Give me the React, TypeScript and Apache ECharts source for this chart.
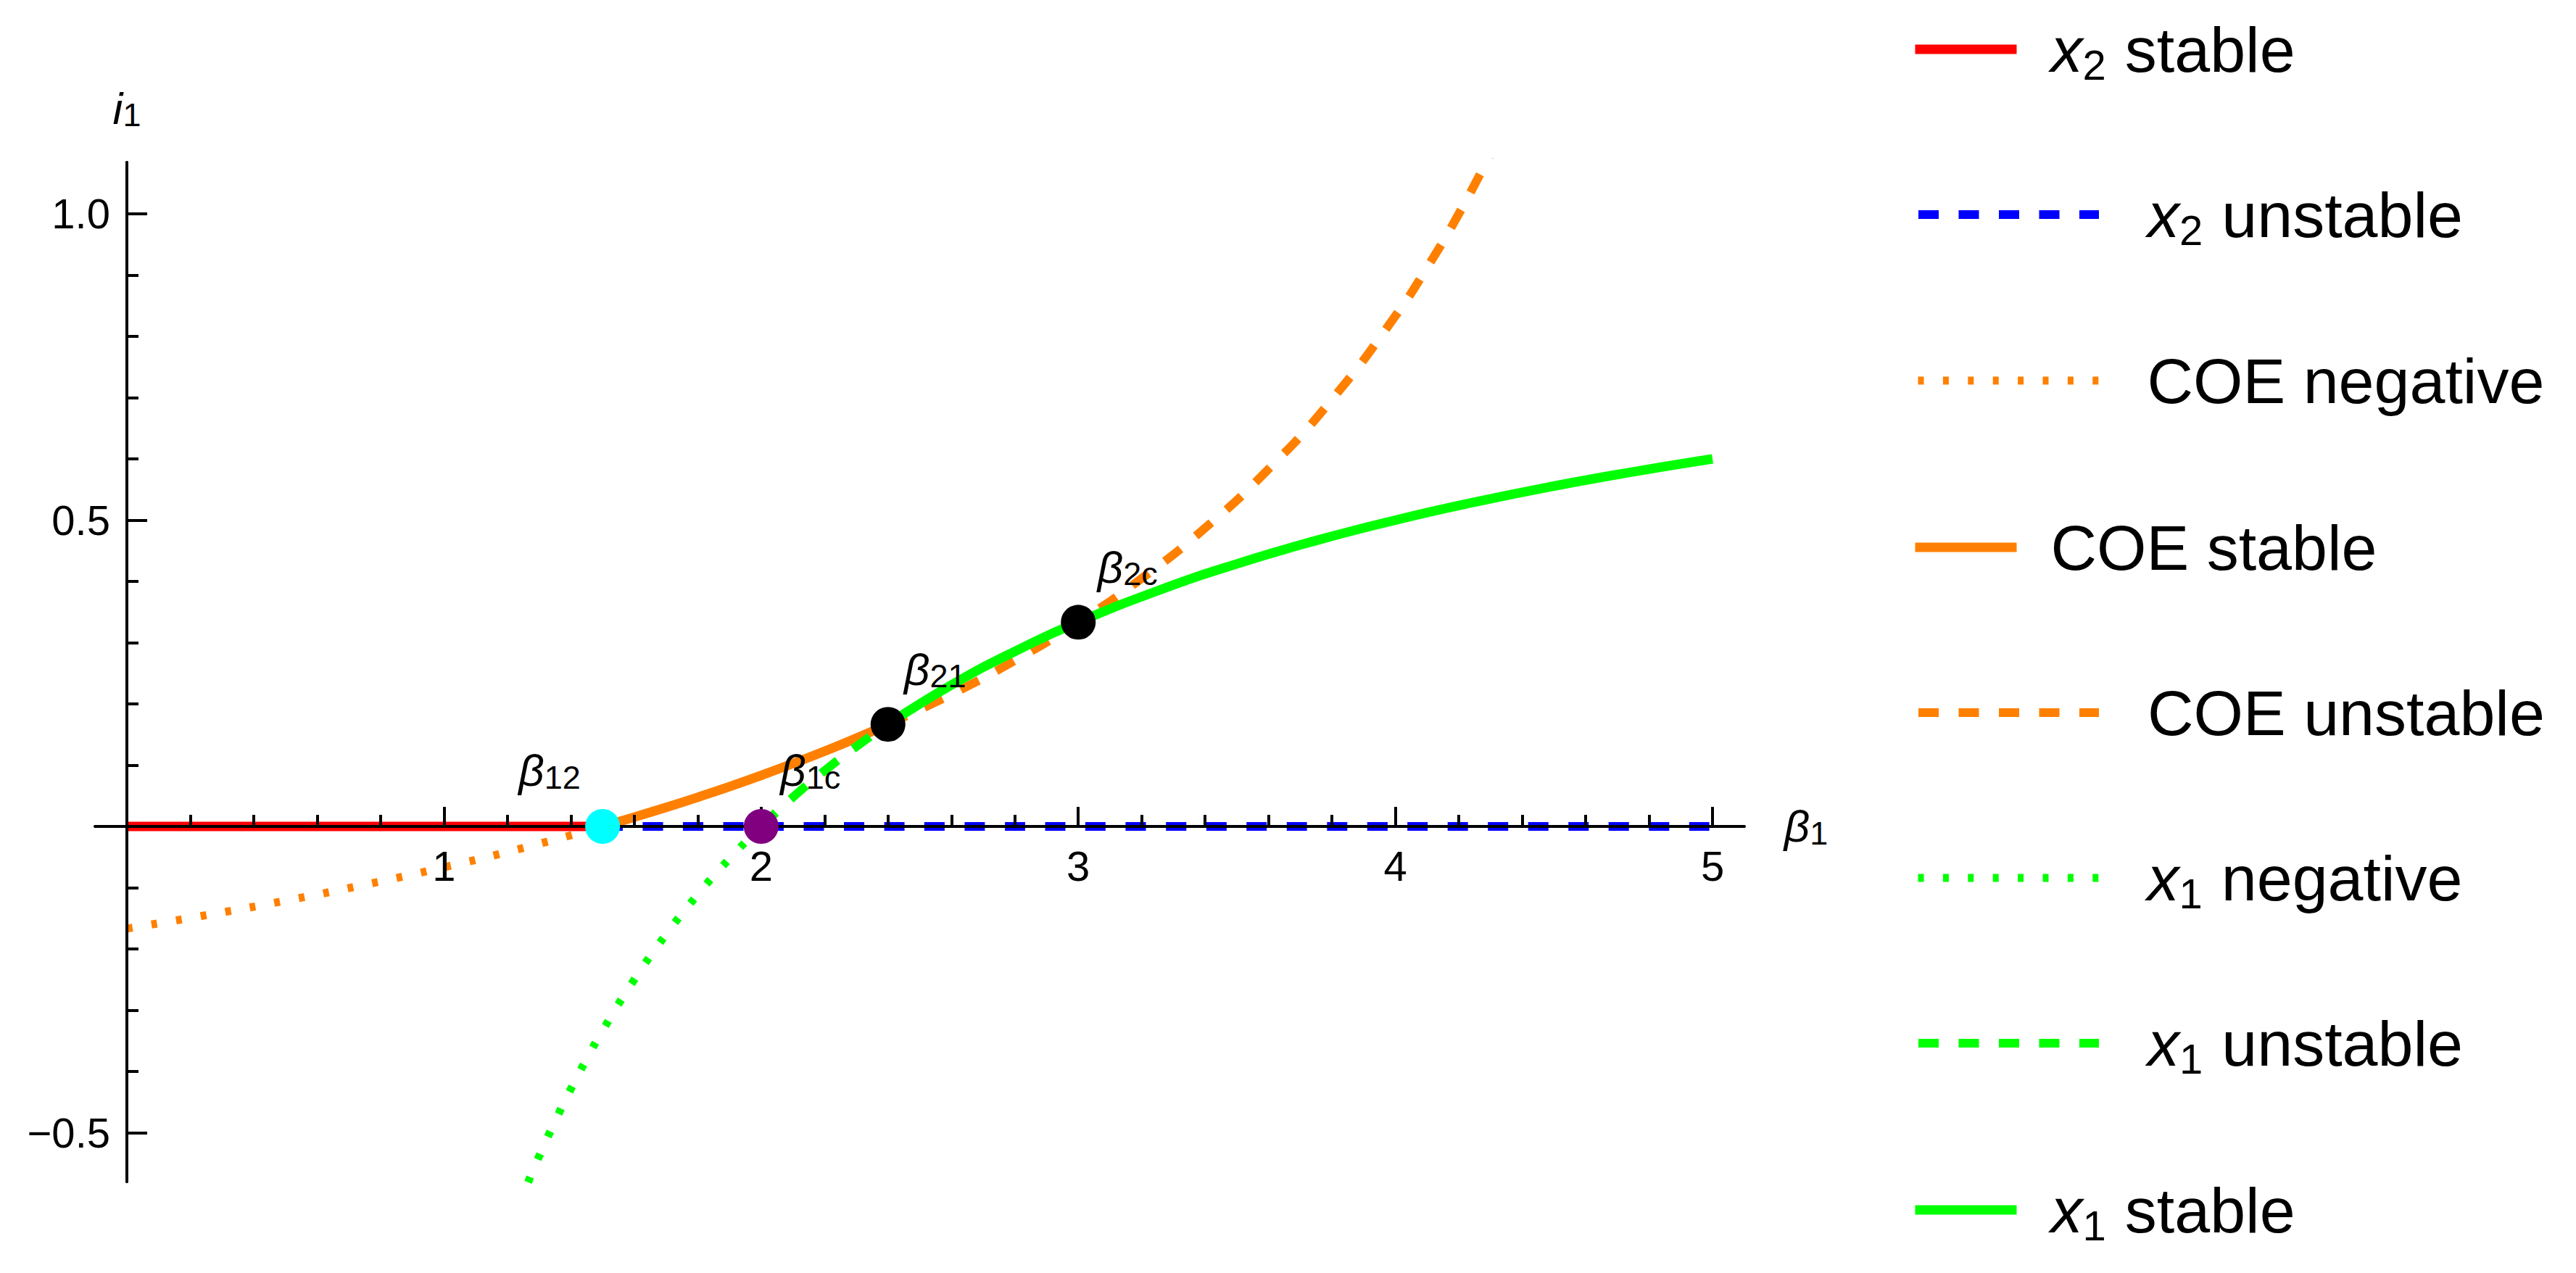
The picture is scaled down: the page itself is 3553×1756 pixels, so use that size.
import React, { useEffect, useRef } from "react";
import * as echarts from "echarts";

// ---- data ----
const x2StableBeta = [0, 1.5];
const x2StableI = [0, 0];

const x2UnstableBeta = [1.5, 5];
const x2UnstableI = [0, 0];

const coeNegativeBeta = [0, 0.25, 0.5, 0.75, 1.0, 1.25, 1.5];
const coeNegativeI = [-0.1667, -0.1449, -0.1212, -0.0952, -0.0667, -0.0351, 0];

const coeStableBeta = [1.5, 1.6, 1.7, 1.8, 1.9, 2.0, 2.1, 2.2, 2.3, 2.4];
const coeStableI = [0, 0.0152, 0.031, 0.0476, 0.065, 0.0833, 0.1026, 0.1228, 0.1441, 0.1667];

const coeUnstableBeta = [2.4, 2.6, 2.8, 3.0, 3.2, 3.4, 3.6, 3.8, 4.0, 4.1, 4.2, 4.3];
const coeUnstableI = [0.1667, 0.2157, 0.2708, 0.3333, 0.4048, 0.4872, 0.5833, 0.697, 0.8333, 0.9123, 1.0, 1.098];

const x1NegativeBeta = [1.265, 1.3, 1.35, 1.4, 1.45, 1.5, 1.6, 1.7, 1.8, 1.9, 2.0];
const x1NegativeI = [-0.581, -0.5385, -0.4815, -0.4286, -0.3793, -0.3333, -0.25, -0.1765, -0.1111, -0.0526, 0];

const x1UnstableBeta = [2.0, 2.1, 2.2, 2.3, 2.4];
const x1UnstableI = [0, 0.0476, 0.0909, 0.1304, 0.1667];

const x1StableBeta = [2.4, 2.6, 2.8, 3.0, 3.25, 3.5, 3.75, 4.0, 4.25, 4.5, 4.75, 5.0];
const x1StableI = [0.1667, 0.2308, 0.2857, 0.3333, 0.3846, 0.4286, 0.4667, 0.5, 0.5294, 0.5556, 0.5789, 0.6];

const pointBeta = [1.5, 2.0, 2.4, 3.0];
const pointI = [0, 0, 0.1667, 0.3333];
const pointSubs = ["12", "1c", "21", "2c"];

const xMajorTicks = [1, 2, 3, 4, 5];
const xMinorTicks = [0.2, 0.4, 0.6, 0.8, 1.0, 1.2, 1.4, 1.6, 1.8, 2.0, 2.2, 2.4, 2.6, 2.8, 3.0, 3.2, 3.4, 3.6, 3.8, 4.0, 4.2, 4.4, 4.6, 4.8, 5.0];
const yMajorTicks = [-0.5, 0.5, 1.0];
const yMinorTicks = [-0.5, -0.4, -0.3, -0.2, -0.1, 0.1, 0.2, 0.3, 0.4, 0.5, 0.6, 0.7, 0.8, 0.9, 1.0];

const seriesNames = ["x2 stable", "x2 unstable", "COE negative", "COE stable", "COE unstable", "x1 negative", "x1 unstable", "x1 stable"];
const legendLabels = [
  "{g|\u00a0}{x|x}{s|2}{sp|\u00a0}{t|stable}",
  "{g2|\u00a0}{x|x}{s|2}{sp|\u00a0}{t|unstable}",
  "{g2|\u00a0}{t|COE negative}",
  "{g|\u00a0}{t|COE stable}",
  "{g2|\u00a0}{t|COE unstable}",
  "{g2|\u00a0}{x|x}{s|1}{sp|\u00a0}{t|negative}",
  "{g2|\u00a0}{x|x}{s|1}{sp|\u00a0}{t|unstable}",
  "{g|\u00a0}{x|x}{s|1}{sp|\u00a0}{t|stable}",
];

// ---- styles ----
const FONT = "'Liberation Sans', Arial, Helvetica, sans-serif";
const RED = "#FF0000";
const BLUE = "#0000FF";
const ORANGE = "#FF8000";
const GREEN = "#00FF00";
const SOLID_W = 13;
const DASH_W = 12;
const DOT_W = 11;
const DASH = [28, 27.5];
const DOT = [8, 26.4];

const seriesStyles = [
  { color: RED, width: SOLID_W, type: "solid" as any },
  { color: BLUE, width: DASH_W, type: DASH },
  { color: ORANGE, width: DOT_W, type: DOT },
  { color: ORANGE, width: SOLID_W, type: "solid" as any },
  { color: ORANGE, width: DASH_W, type: DASH },
  { color: GREEN, width: DOT_W, type: DOT },
  { color: GREEN, width: DASH_W, type: DASH },
  { color: GREEN, width: SOLID_W, type: "solid" as any },
];
const legendLineY = [74, 302, 531, 761, 989, 1217, 1445, 1675];

const pointColors = ["#00FFFF", "#800080", "#000000", "#000000"];
const pointLabelOffsets = [
  [-73, -77],
  [68, -77],
  [65, -76],
  [68, -76],
];

const mathRich = {
  b: { fontFamily: FONT, fontStyle: "italic", fontSize: 62, lineHeight: 64, color: "#000" },
  s: { fontFamily: FONT, fontSize: 45, lineHeight: 28, verticalAlign: "bottom", color: "#000" },
};

const legendRich = {
  g: { width: 42, fontSize: 20, lineHeight: 10 },
  g2: { width: 62, fontSize: 20, lineHeight: 10 },
  sp: { width: 26, fontSize: 20, lineHeight: 10 },
  x: { fontFamily: FONT, fontStyle: "italic", fontSize: 88, lineHeight: 100, color: "#000" },
  s: { fontFamily: FONT, fontSize: 58, lineHeight: 45, verticalAlign: "bottom", color: "#000" },
  t: { fontFamily: FONT, fontSize: 88, lineHeight: 100, color: "#000" },
};

// plot geometry (pixels)
const GRID_LEFT = 131.26;
const GRID_TOP = 224;
const GRID_W = 2274.5;
const GRID_H = 1406.1;

const X_MIN = -0.1;
const X_MAX = 5.1;
const Y_MIN = -0.58;
const Y_MAX = 1.084;

// offsets that move the axes from the grid edges onto the zero lines
const X_AXIS_OFFSET = -((0 - Y_MIN) / (Y_MAX - Y_MIN)) * GRID_H;
const Y_AXIS_OFFSET = -((0 - X_MIN) / (X_MAX - X_MIN)) * GRID_W;

function zip(xs: number[], ys: number[]) {
  return xs.map((x, k) => [x, ys[k]]);
}

const seriesData = [
  zip(x2StableBeta, x2StableI),
  zip(x2UnstableBeta, x2UnstableI),
  zip(coeNegativeBeta, coeNegativeI),
  zip(coeStableBeta, coeStableI),
  zip(coeUnstableBeta, coeUnstableI),
  zip(x1NegativeBeta, x1NegativeI),
  zip(x1UnstableBeta, x1UnstableI),
  zip(x1StableBeta, x1StableI),
];

function fmtY(v: number) {
  const s = Math.abs(v).toFixed(1);
  return v < 0 ? "\u2212" + s : s;
}

function buildOption() {
  const lineSeries = seriesNames.map((name, k) => ({
    type: "line",
    name,
    data: seriesData[k],
    xAxisIndex: 0,
    yAxisIndex: 0,
    symbol: "none",
    showSymbol: false,
    smooth: true,
    clip: true,
    silent: true,
    z: 2,
    color: seriesStyles[k].color,
    itemStyle: { color: seriesStyles[k].color },
    lineStyle: { color: seriesStyles[k].color, width: seriesStyles[k].width, type: seriesStyles[k].type, cap: "butt" },
    emphasis: { disabled: true },
  }));

  const scatter = {
    type: "scatter",
    name: "points",
    z: 20,
    silent: true,
    symbolSize: 48,
    itemStyle: { opacity: 1 },
    data: pointBeta.map((b, k) => ({
      value: [b, pointI[k]],
      itemStyle: { color: pointColors[k], opacity: 1 },
      label: { offset: pointLabelOffsets[k] },
    })),
    label: {
      show: true,
      position: "inside",
      formatter: (p: any) => `{b|β}{s|${pointSubs[p.dataIndex]}}`,
      rich: mathRich,
    },
    emphasis: { disabled: true },
  };

  const legends = seriesNames.map((name, k) => {
    const solid = seriesStyles[k].type === "solid";
    return {
      show: true,
      data: [name],
      orient: "horizontal",
      left: solid ? 2635 : 2640,
      top: legendLineY[k] - 50,
      padding: 0,
      itemGap: 0,
      itemWidth: solid ? 140 : 249,
      itemHeight: 14,
      selectedMode: false,
      itemStyle: { opacity: 0 },
      lineStyle: {
        color: seriesStyles[k].color,
        width: seriesStyles[k].width,
        type: seriesStyles[k].type,
        cap: "butt",
        opacity: 1,
      },
      formatter: () => legendLabels[k],
      textStyle: { color: "#000", fontFamily: FONT, fontSize: 88, rich: legendRich },
    };
  });

  const axisCommon = {
    type: "value",
    splitLine: { show: false },
    z: 10,
  };
  const axisLineStyle = { show: true, onZero: false, lineStyle: { color: "#000", width: 4 } };

  return {
    animation: false,
    backgroundColor: "#ffffff",
    textStyle: { fontFamily: FONT },
    grid: {
      left: GRID_LEFT,
      top: GRID_TOP,
      width: GRID_W,
      height: GRID_H,
      containLabel: false,
      outerBoundsMode: "none",
    },
    legend: legends,
    xAxis: [
      {
        ...axisCommon,
        min: X_MIN,
        max: X_MAX,
        position: "bottom",
        offset: X_AXIS_OFFSET,
        name: "{b|β}{s|1}",
        nameLocation: "end",
        nameGap: 55,
        nameTextStyle: { rich: mathRich, fontFamily: FONT, color: "#000" },
        axisLine: axisLineStyle,
        axisTick: { show: true, inside: true, length: 27, customValues: xMajorTicks, lineStyle: { color: "#000", width: 4 } },
        axisLabel: {
          show: true,
          customValues: xMajorTicks,
          margin: 26,
          fontSize: 58,
          lineHeight: 58,
          fontFamily: FONT,
          color: "#000",
          formatter: (v: number) => String(v),
        },
      },
      {
        ...axisCommon,
        min: X_MIN,
        max: X_MAX,
        position: "bottom",
        offset: X_AXIS_OFFSET,
        axisLine: axisLineStyle,
        axisTick: { show: true, inside: true, length: 16, customValues: xMinorTicks, lineStyle: { color: "#000", width: 4 } },
        axisLabel: { show: false },
      },
    ],
    yAxis: [
      {
        ...axisCommon,
        min: Y_MIN,
        max: Y_MAX,
        position: "left",
        offset: Y_AXIS_OFFSET,
        name: "{b|i}{s|1}",
        nameLocation: "end",
        nameGap: 43,
        nameTextStyle: { rich: mathRich, fontFamily: FONT, color: "#000" },
        axisLine: axisLineStyle,
        axisTick: { show: true, inside: true, length: 28, customValues: yMajorTicks, lineStyle: { color: "#000", width: 4 } },
        axisLabel: {
          show: true,
          customValues: yMajorTicks,
          margin: 23,
          fontSize: 58,
          fontFamily: FONT,
          color: "#000",
          formatter: (v: number) => fmtY(v),
        },
      },
      {
        ...axisCommon,
        min: Y_MIN,
        max: Y_MAX,
        position: "left",
        offset: Y_AXIS_OFFSET,
        axisLine: axisLineStyle,
        axisTick: { show: true, inside: true, length: 16, customValues: yMinorTicks, lineStyle: { color: "#000", width: 4 } },
        axisLabel: { show: false },
      },
    ],
    series: [...lineSeries, scatter],
  };
}

export default function App() {
  const ref = useRef<HTMLDivElement>(null);
  useEffect(() => {
    if (!ref.current) return;
    const chart = echarts.init(ref.current, null, { renderer: "svg" });
    chart.setOption(buildOption() as any);
    return () => chart.dispose();
  }, []);
  return (
    <div
      ref={ref}
      style={{ position: "absolute", left: 0, top: 0, width: 3553, height: 1756, background: "#fff" }}
    />
  );
}
